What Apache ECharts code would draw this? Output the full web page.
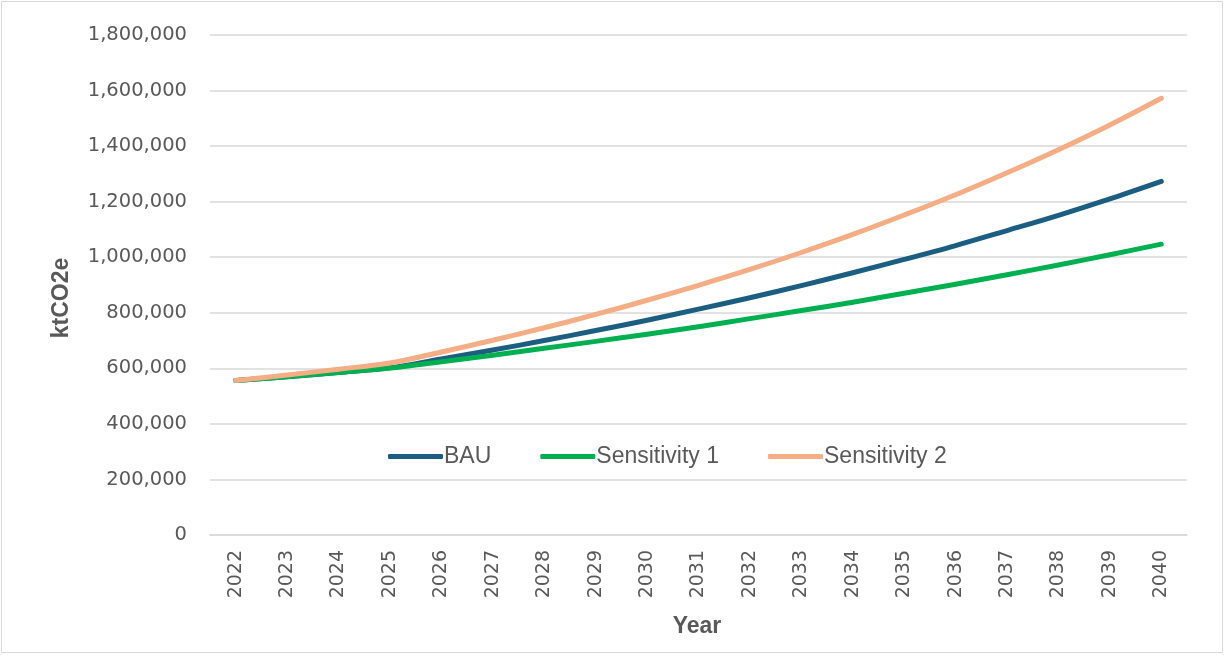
<!DOCTYPE html>
<html>
<head>
<meta charset="utf-8">
<script src="https://cdn.jsdelivr.net/npm/echarts@6/dist/echarts.min.js"></script>
<style>
html,body{margin:0;padding:0;background:#fff;}
#chart{width:1224px;height:655px;}
</style>
</head>
<body>
<div id="chart"></div>
<script>
const years = ['2022','2023','2024','2025','2026','2027','2028','2029','2030','2031','2032','2033','2034','2035','2036','2037','2038','2039','2040'];
const bau = [556000,570000,585000,602000,634000,666000,700000,736000,773000,813000,854000,898000,944000,992000,1042000,1096000,1151000,1210000,1273000];
const sensitivity1 = [556000,570000,585000,601000,624000,647000,672000,697000,723000,750000,779000,808000,838000,870000,903000,937000,972000,1009000,1047000];
const sensitivity2 = [556000,576000,597000,619000,659000,701000,746000,794000,845000,899000,956000,1017000,1082000,1152000,1225000,1304000,1387000,1476000,1572000];
const yTicks = [0,200000,400000,600000,800000,1000000,1200000,1400000,1600000,1800000];
const seriesNames = ['BAU','Sensitivity 1','Sensitivity 2'];
const colors = ['#1B5E82','#00B050','#F4AD84'];
const xTitle = 'Year';
const yTitle = 'ktCO2e';

const chart = echarts.init(document.getElementById('chart'), null, {renderer:'canvas'});
const fmt = v => v.toLocaleString('en-US');
const mk = (name, data, color) => ({
  name, type:'line', data, smooth:0.35, symbol:'none', showSymbol:false,
  lineStyle:{color, width:5, cap:'round', join:'round'},
  itemStyle:{color}, emphasis:{disabled:true}, animation:false
});
const titleStyle = {fill:'#595959', font:'bold 23px "Liberation Sans"', textAlign:'center', textVerticalAlign:'middle'};
chart.setOption({
  animation:false,
  color: colors,
  graphic:[
    {type:'rect', shape:{x:1.5,y:1.5,width:1221,height:651}, style:{fill:'none', stroke:'#D9D9D9', lineWidth:1}, silent:true, z:-1},
    {type:'text', x:62, y:298, rotation:Math.PI/2, style:Object.assign({text:yTitle}, titleStyle), silent:true},
    {type:'text', x:697, y:627, style:Object.assign({text:xTitle}, titleStyle), silent:true}
  ],
  grid:{left:210, right:37, top:35, bottom:120, containLabel:false},
  legend:{
    data: seriesNames, left:383, top:440, itemWidth:55, itemHeight:5, itemGap:49,
    icon:'roundRect',
    textStyle:{color:'#595959', fontFamily:'Liberation Sans', fontSize:23, padding:[0,0,0,-4]}
  },
  xAxis:{
    type:'category', data: years, boundaryGap:true,
    axisLine:{lineStyle:{color:'#D9D9D9', width:1.5}},
    axisTick:{show:false},
    axisLabel:{rotate:90, margin:15, color:'#595959', fontFamily:'DejaVu Sans', fontSize:19, interval:0}
  },
  yAxis:{
    type:'value', min:0, max:1800000, interval:200000,
    axisLine:{show:false}, axisTick:{show:false},
    splitLine:{lineStyle:{color:'#D9D9D9', width:1.5}},
    axisLabel:{margin:23, color:'#595959', fontFamily:'DejaVu Sans', fontSize:19.5, formatter: v => fmt(v)}
  },
  series:[ mk(seriesNames[0], bau, colors[0]), mk(seriesNames[1], sensitivity1, colors[1]), mk(seriesNames[2], sensitivity2, colors[2]) ]
});
</script>
</body>
</html>
